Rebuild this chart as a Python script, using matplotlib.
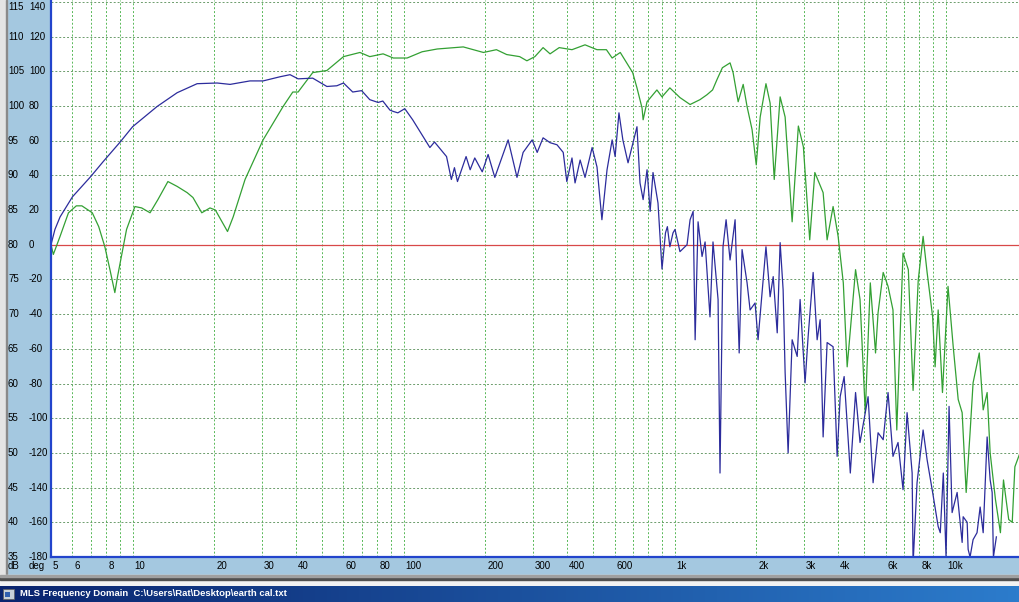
import numpy as np
import matplotlib.pyplot as plt
from matplotlib import transforms
from matplotlib.patches import Rectangle

# blue trace (Hz, dB)
blue_freq = [5.0, 5.17, 5.4, 6.0, 7.0, 7.8, 9.0, 10, 12.3, 14.6, 17.3, 20.5, 22.9, 27.1, 30.3, 35, 38.1,
             40.8, 46.2, 52.1, 56.7, 60, 64.9, 70, 75, 80.5, 83.8, 89, 91.6, 95.2, 101, 108, 125,
             130, 144, 150, 154, 158, 170, 176, 183, 195, 205, 217, 243, 262, 276, 298, 311, 327,
             347, 368, 388, 400, 418, 429, 448, 467, 496, 517, 539, 563, 588, 603, 623, 644, 673,
             726, 745, 765, 791, 812, 832, 868, 898, 925, 940, 960, 986, 1003, 1046, 1111, 1140,
             1170, 1190, 1220, 1262, 1295, 1350, 1385, 1446, 1470, 1508, 1548, 1601, 1671, 1730,
             1773, 1850, 1898, 1980, 2031, 2172, 2250, 2310, 2390, 2450, 2513, 2556, 2622, 2713,
             2832, 2903, 3028, 3107, 3243, 3355, 3442, 3530, 3652, 3842, 3976, 4080, 4220, 4447,
             4650, 4830, 5172, 5397, 5630, 5880, 6128, 6390, 6670, 6960, 7203, 7520, 7580, 7840,
             8254, 8540, 8950, 9380, 9550, 9800, 10030, 10290, 10560, 11020, 11500, 11600, 12000,
             12100, 12300, 12620, 13050, 13400, 13750, 14220, 14590, 14840, 15000, 15380]
blue_db = [80, 82.2, 84, 86.9, 89.8, 92, 94.8, 97, 99.9, 101.9, 103.2, 103.3, 103.1, 103.6, 103.6, 104.2, 104.5,
           103.9, 104, 102.8, 102.9, 103.3, 102, 102.2, 100.9, 100.5, 100.7, 99.4, 99.2, 99, 99.6, 98, 94,
           94.8, 92.7, 89.4, 91.1, 89.1, 92.7, 90.8, 92.5, 90.5, 93, 89.7, 95.1, 89.7, 93.3, 95.1, 93.3, 95.4,
           94.7, 94.4, 93.3, 89.1, 92.5, 88.9, 92.2, 89.7, 94, 91.2, 83.6, 90.8, 95.1, 92.7, 99, 95.1, 91.8,
           97, 88.9, 86.5, 90.8, 84.8, 90.4, 86, 76.5, 81.7, 82.6, 79.7, 81.7, 82.2, 79, 80, 83.6,
           84.8, 66.3, 83.3, 78.3, 80.4, 69.6, 80.4, 72.1, 47.1, 79.7, 83.6, 77.8, 83.6, 64.4,
           79.3, 74.5, 70.6, 71.6, 66.3, 79.7, 72.5, 75.4, 67.3, 80.3, 73.5, 61.6, 50, 66.3,
           63.9, 72.1, 60.1, 66.7, 76, 66.3, 69.2, 52.3, 65.9, 65.3, 49.5, 58.1, 61, 47.1,
           58.7, 51.5, 58.1, 45.7, 52.9, 51.9, 58.7, 49.5, 51.5, 44.7, 55.8, 47.1, 34, 45.7,
           53.3, 49, 44.3, 39.4, 38.5, 47.1, 35, 56.7, 41.4, 44.3, 37.1, 40.8, 40,
           36.1, 35, 37.5, 38.5, 42.2, 38.5, 52.3, 46.1, 44.3, 35, 37.9]

# green trace (Hz, dB)
green_freq = [5.0, 5.1, 5.4, 5.8, 6.2, 6.5, 7.1, 7.5, 7.9, 8.25, 8.6, 8.8, 9.0, 9.5, 10.2, 10.8, 11.6,
              12.4, 13.5, 14.6, 15.9, 16.7, 18.0, 19.3, 20.2, 22.4, 23.5, 26, 30.3, 35.9, 39, 40.8,
              46.2, 52.1, 60, 69, 75, 84, 91.6, 103, 117, 133, 166, 197, 220, 240, 268, 285, 305,
              327, 347, 375, 418, 467, 517, 560, 588, 630, 665, 700, 726, 758, 765, 791, 860, 898,
              960, 1046, 1140, 1240, 1315, 1380, 1433, 1500, 1601, 1643, 1715, 1790, 1850, 1930,
              2000, 2068, 2172, 2250, 2330, 2450, 2556, 2713, 2860, 2985, 3150, 3290, 3530, 3652,
              3842, 4010, 4190, 4330, 4650, 4830, 5050, 5270, 5510, 5630, 5880, 6128, 6390, 6600,
              6780, 6960, 7280, 7580, 7920, 8254, 8540, 8950, 9140, 9380, 9730, 10200, 10660,
              11120, 11500, 11900, 12300, 12620, 13300, 13750, 14220, 14590, 15260, 15920, 16340,
              17080, 17600, 18000, 18800]
green_db = [80, 78.6, 81.2, 84.6, 85.6, 85.6, 84.6, 82.6, 79.7, 76.4, 73.1, 75.4, 77.4, 82.2, 85.5, 85.3, 84.6,
            86.5, 89.1, 88.4, 87.5, 86.8, 84.6, 85.3, 85, 81.9, 84, 89.4, 95.1, 99.9, 102, 102,
            104.8, 105.1, 107.1, 107.7, 107.1, 107.5, 106.9, 106.9, 107.8, 108.2, 108.5, 107.7, 108.1, 107.4, 107.1, 106.5, 107.1,
            108.4, 107.5, 108.4, 108.1, 108.8, 108.1, 108.1, 106.9, 107.7, 106.2, 104.8, 102.6, 99.7, 98, 100.6, 102.3, 101.3,
            102.6, 101.2, 100.2, 100.9, 101.6, 102.3, 103.8, 105.5, 106.2, 104.8, 100.6, 103.1, 99.9, 96.6,
            91.5, 98.4, 103.2, 100.4, 89.4, 101.3, 98.4, 83.3, 97.1, 94.1, 80.7, 90.4, 87.5, 80.7,
            85.5, 81.2, 74.5, 62.4, 76.4, 72.1, 55.8, 74.5, 64.4, 70.2, 76, 74, 70.6, 53.3,
            66.3, 78.8, 76.4, 59, 74.9, 81.2, 76, 69.6, 62.4, 70.6, 58.7, 74, 65.3,
            57.7, 55.8, 44.3, 52.9, 60.1, 64.4, 56.2, 58.7, 50, 43.3, 38.5, 46.1,
            40.4, 40, 48, 50]

grid_freqs = [5, 6, 7, 8, 9, 10, 20, 30, 40, 50, 60, 70, 80, 90, 100, 200, 300, 400, 500, 600, 700,
              800, 900, 1000, 2000, 3000, 4000, 5000, 6000, 7000, 8000, 9000, 10000]
x_label_freqs = [5, 6, 8, 10, 20, 30, 40, 60, 80, 100, 200, 300, 400, 600, 1000, 2000, 3000, 4000,
                 6000, 8000, 10000]
x_labels = ['5', '6', '8', '10', '20', '30', '40', '60', '80', '100', '200', '300', '400', '600',
            '1k', '2k', '3k', '4k', '6k', '8k', '10k']
db_ticks = list(range(35, 120, 5))
deg_ticks = [(d - 80) * 4 for d in db_ticks]

panel_blue = '#a4c8e0'
font = ['Liberation Sans', 'DejaVu Sans']

fig = plt.figure(figsize=(10.2, 6.02), dpi=100)
fig.patch.set_facecolor(panel_blue)
W, H = 1020, 602

# plot area
ax = fig.add_axes([51 / W, 45 / H, 969 / W, 557 / H])
ax.set_facecolor('white')
ax.set_xscale('log')
ax.set_xlim(5, 18800)
ax.set_ylim(35, 115.26)

ax.set_xticks(grid_freqs)
ax.set_xticks([], minor=True)
ax.set_yticks(db_ticks)
ax.tick_params(which='both', length=0, labelbottom=False, labelleft=False)
ax.grid(axis='x', color='#58b858', linestyle=(0, (2, 2)), linewidth=0.7)
ax.grid(axis='y', color='#6c9c6c', linestyle=(0, (2, 2)), linewidth=0.7)
ax.set_axisbelow(True)
for s in ['top', 'right']:
    ax.spines[s].set_visible(False)
for s in ['left', 'bottom']:
    ax.spines[s].set_color('#2244cc')
    ax.spines[s].set_linewidth(1.6)

ax.axhline(80, color='#d84848', linewidth=0.9)
ax.plot(green_freq, green_db, color='#33a033', linewidth=0.9)
ax.plot(blue_freq, blue_db, color='#2c2c9c', linewidth=0.9)

# y labels (two columns); the top row sits at the very edge, pushed down a little
tr = transforms.blended_transform_factory(fig.transFigure, ax.transData)
for d, g in zip(db_ticks, deg_ticks):
    yv = min(d, 114.2)
    fig.text(8 / W, yv, str(d), transform=tr, fontsize=7, va='center', ha='left', family=font)
    fig.text(29 / W, yv, str(g), transform=tr, fontsize=7, va='center', ha='left', family=font)
fig.text(8 / W, 1 - 566 / H, 'dB', fontsize=7, va='center', ha='left', family=font)
fig.text(29 / W, 1 - 566 / H, 'deg', fontsize=7, va='center', ha='left', family=font)

# x labels
for f, lab in zip(x_label_freqs, x_labels):
    ax.annotate(lab, xy=(f, 0), xycoords=('data', 'axes fraction'), xytext=(2, -9),
                textcoords='offset pixels', fontsize=7, va='center', ha='left', family=font,
                annotation_clip=False)

# window frame bits
fig.add_artist(Rectangle((0, 0), 7 / W, 1, transform=fig.transFigure, color='#e4e4e4', zorder=0))
fig.add_artist(Rectangle((6 / W, 0), 1.5 / W, 1, transform=fig.transFigure, color='#8a8a8a', zorder=0))
fig.add_artist(Rectangle((0, 0), 1, 27 / H, transform=fig.transFigure, color='#f2f2f2', zorder=1))
fig.add_artist(Rectangle((0, 22 / H), 1, 3 / H, transform=fig.transFigure, color='#505050', zorder=1))
fig.add_artist(Rectangle((0, 25 / H), 1, 2 / H, transform=fig.transFigure, color='#a0a0a0', zorder=1))

# title bar
tb = fig.add_axes([0, 0, 1, 16 / H], zorder=5)
grad = np.linspace(0, 1, 256)
c0 = np.array([10, 36, 110]) / 255
c1 = np.array([44, 124, 204]) / 255
img = (c0[None, :] * (1 - grad[:, None]) + c1[None, :] * grad[:, None])[None, :, :]
tb.imshow(img, aspect='auto', extent=(0, 1, 0, 1))
tb.set_xlim(0, 1)
tb.set_ylim(0, 1)
tb.axis('off')
tb.add_patch(Rectangle((3 / W, 0.2), 11 / W, 0.62, facecolor='#c8d0d8', edgecolor='#606060', linewidth=0.5))
tb.add_patch(Rectangle((5 / W, 0.3), 5 / W, 0.3, facecolor='#3060b0', edgecolor='none'))
tb.text(20 / W, 0.5, 'MLS Frequency Domain  C:\\Users\\Rat\\Desktop\\earth cal.txt', color='white',
        fontsize=6.8, fontweight='bold', va='center', ha='left', family=['Liberation Sans', 'DejaVu Sans'])

fig.savefig('out.png', dpi=100, facecolor=fig.get_facecolor())
